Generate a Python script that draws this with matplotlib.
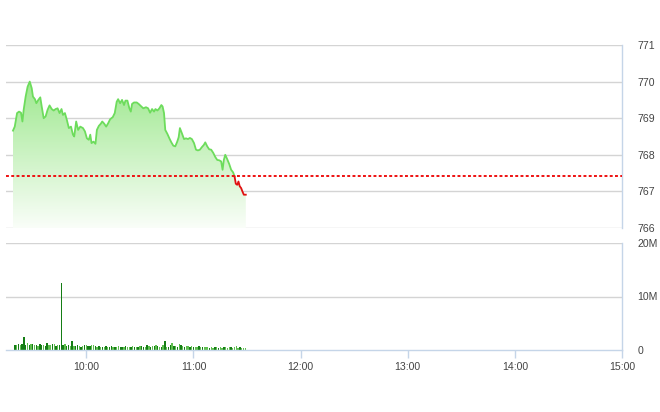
import matplotlib
matplotlib.use('Agg')
import matplotlib.pyplot as plt
import numpy as np
from matplotlib.colors import LinearSegmentedColormap

# ---- data (minutes after 09:00) ----
price_minutes = [18.9, 19.9, 21.2, 22.3, 23.4, 24.2, 24.9, 26.0, 27.1, 28.3, 29.4, 30.1, 31.2, 32.0,
                 33.1, 34.2, 35.0, 36.1, 37.2, 38.3, 39.4, 40.6, 41.7, 42.8, 43.9, 45.0, 46.1, 46.9,
                 48.0, 49.1, 50.2, 51.4, 52.5, 53.2, 54.3, 55.4, 56.6, 58.1, 59.2, 60.3, 61.4, 62.2,
                 62.9, 64.0, 65.1, 65.9, 67.0, 68.1, 68.9, 70.0, 71.1, 72.2, 73.3, 74.8, 75.9, 77.0,
                 77.8, 78.9, 80.0, 81.1, 81.9, 83.0, 84.1, 84.9, 85.6, 86.7, 88.2, 89.3, 90.8, 91.9,
                 93.4, 94.6, 95.7, 96.8, 97.9, 98.7, 99.8, 100.9, 102.0, 102.7, 103.5, 104.2, 105.4,
                 106.5, 107.6, 108.7, 109.8, 110.9, 111.7, 112.4, 113.5, 114.7, 115.8, 116.9, 118.0,
                 119.1, 120.3, 121.4, 122.5, 123.6, 124.7, 125.8, 126.6, 127.7, 128.8, 129.9, 131.1,
                 132.2, 133.3, 134.4, 135.5, 136.3, 137.0, 137.8, 138.9, 140.0, 141.1, 142.2, 143.0,
                 143.7, 144.5, 145.2, 145.9, 146.7, 147.4, 148.2, 149.3]
price_values = [768.66, 768.77, 769.14, 769.18, 769.15, 768.91, 769.23, 769.59, 769.86, 770.00,
                769.82, 769.59, 769.52, 769.41, 769.50, 769.57, 769.32, 769.00, 769.05, 769.23,
                769.35, 769.25, 769.21, 769.25, 769.27, 769.14, 769.25, 769.09, 769.14, 768.95,
                768.73, 768.77, 768.55, 768.50, 768.91, 768.68, 768.77, 768.73, 768.64, 768.45,
                768.41, 768.55, 768.32, 768.36, 768.30, 768.68, 768.79, 768.85, 768.91, 768.85,
                768.77, 768.86, 768.97, 769.03, 769.14, 769.45, 769.52, 769.41, 769.50, 769.36,
                769.48, 769.48, 769.27, 769.18, 769.39, 769.43, 769.43, 769.39, 769.32, 769.27,
                769.30, 769.27, 769.15, 769.25, 769.18, 769.25, 769.21, 769.27, 769.36, 769.32,
                769.14, 768.68, 768.57, 768.45, 768.34, 768.25, 768.23, 768.36, 768.48, 768.73,
                768.59, 768.43, 768.45, 768.43, 768.46, 768.43, 768.32, 768.14, 768.12, 768.14,
                768.21, 768.27, 768.34, 768.23, 768.15, 768.14, 768.05, 767.94, 767.86, 767.85,
                767.82, 767.59, 767.86, 768.00, 767.88, 767.75, 767.59, 767.52, 767.41, 767.21,
                767.18, 767.27, 767.14, 767.09, 767.00, 766.91, 766.91]
reference_price = 767.41

volume_minutes = list(range(20, 150))
volume_millions = [0.9, 1.0, 1.1, 0.9, 1.2, 2.4, 1.0, 1.3, 0.9, 1.1,
                   1.2, 0.9, 1.0, 0.8, 1.1, 0.9, 1.0, 0.8, 1.3, 1.0,
                   0.9, 1.2, 1.1, 0.8, 0.9, 1.0, 12.6, 0.9, 1.1, 0.7,
                   0.9, 0.8, 1.7, 0.7, 0.8, 0.9, 0.7, 0.6, 0.8, 1.0,
                   0.9, 0.7, 0.8, 1.0, 0.9, 0.8, 0.6, 0.7, 0.6, 0.5,
                   0.6, 0.7, 0.5, 0.6, 0.7, 0.6, 0.5, 0.6, 0.7, 0.6,
                   0.5, 0.6, 0.7, 0.5, 0.6, 0.5, 0.7, 0.6, 0.5, 0.6,
                   0.7, 0.8, 0.6, 0.5, 0.9, 0.7, 0.6, 0.8, 0.7, 1.0,
                   0.8, 0.5, 0.6, 0.9, 1.7, 0.6, 0.5, 0.9, 1.4, 0.8,
                   0.7, 0.6, 1.2, 0.9, 0.7, 0.6, 0.8, 0.7, 0.6, 0.7,
                   0.6, 0.5, 0.6, 0.7, 0.5, 0.6, 0.5, 0.6, 0.5, 0.4,
                   0.5, 0.4, 0.5, 0.6, 0.4, 0.5, 0.4, 0.5, 0.6, 0.4,
                   0.5, 0.6, 0.4, 0.5, 0.7, 0.4, 0.5, 0.4, 0.3, 0.3]
volume_dirs = ("dldldddldl" "dldlddlddl" "ldldldddld" "dldlddldld" "lddlldldld"
               "ldlddldlld" "dldlldldld" "lddldldldl" "dldldlddld" "ldldldlldl"
               "dlldldllld" "lldldlldll" "ldlllldlll")

x_tick_minutes = [60, 120, 180, 240, 300, 360]
x_tick_labels = ["10:00", "11:00", "12:00", "13:00", "14:00", "15:00"]
price_ticks = [766, 767, 768, 769, 770, 771]
volume_ticks = [0, 10, 20]
volume_tick_labels = ["0", "10M", "20M"]

# ---- style ----
plt.rcParams['font.family'] = ['Liberation Sans Narrow', 'Liberation Sans', 'DejaVu Sans']
LABEL_COLOR = '#444444'
GRID = '#d4d4d4'
SPINE = '#c5d5e8'
LINE_GREEN = '#6ddc5c'
LINE_RED = '#e01010'
FS = 7.6

W, H = 660, 412
fig = plt.figure(figsize=(W / 100, H / 100), dpi=100)
fig.patch.set_facecolor('white')


def rect(l, t, r, b):
    return [l / W, 1 - b / H, (r - l) / W, (b - t) / H]


XMIN, XMAX = 15, 360
ax1 = fig.add_axes(rect(6, 45, 622, 228))
ax2 = fig.add_axes(rect(6, 243, 622, 350))

# ---- price panel ----
t = np.array(price_minutes)
v = np.array(price_values)
ax1.set_xlim(XMIN, XMAX)
ax1.set_ylim(price_ticks[0], price_ticks[-1])

for y in price_ticks:
    ax1.axhline(y, color=GRID, lw=1.0, zorder=0)

fill = ax1.fill_between(t, v, price_ticks[0], color='none', lw=0)
cmap = LinearSegmentedColormap.from_list('g', [(0.98, 0.995, 0.975), (0.62, 0.91, 0.56)])
grad = np.linspace(0, 1, 256).reshape(-1, 1)
img = ax1.imshow(grad, extent=[t[0], t[-1], price_ticks[0], v.max()], origin='lower',
                 aspect='auto', cmap=cmap, zorder=1, interpolation='bilinear')
img.set_clip_path(fill.get_paths()[0], transform=ax1.transData)
ax1.set_xlim(XMIN, XMAX)
ax1.set_ylim(price_ticks[0], price_ticks[-1])

cross = int(np.where(v <= reference_price)[0][0])
ax1.plot(t[:cross + 1], v[:cross + 1], color=LINE_GREEN, lw=1.3, zorder=3, solid_joinstyle='round')
ax1.plot(t[cross:], v[cross:], color=LINE_RED, lw=1.3, zorder=3, solid_joinstyle='round')
ax1.axhline(reference_price, color='#ee1111', lw=1.4, ls=(0, (1.5, 1.2)), zorder=4)

for s in ['top', 'left', 'bottom']:
    ax1.spines[s].set_visible(False)
ax1.spines['right'].set_color(SPINE)
ax1.spines['right'].set_linewidth(1.0)
ax1.set_xticks([])
ax1.yaxis.tick_right()
ax1.set_yticks(price_ticks)
ax1.set_yticklabels([str(p) for p in price_ticks])
ax1.tick_params(axis='y', length=0, pad=11, labelsize=FS, labelcolor=LABEL_COLOR)

# ---- volume panel ----
ax2.set_xlim(XMIN, XMAX)
ax2.set_ylim(volume_ticks[0], volume_ticks[-1])
for y in volume_ticks[1:]:
    ax2.axhline(y, color=GRID, lw=1.0, zorder=0)
colors = ['#157d15' if c == 'd' else '#5fbf4f' for c in volume_dirs]
ax2.bar(volume_minutes, volume_millions, width=0.75, color=colors, zorder=2, lw=0)

for s in ['top', 'left']:
    ax2.spines[s].set_visible(False)
for s in ['right', 'bottom']:
    ax2.spines[s].set_color(SPINE)
    ax2.spines[s].set_linewidth(1.0)
ax2.yaxis.tick_right()
ax2.set_yticks(volume_ticks)
ax2.set_yticklabels(volume_tick_labels)
ax2.tick_params(axis='y', length=0, pad=11, labelsize=FS, labelcolor=LABEL_COLOR)
ax2.set_xticks(x_tick_minutes)
ax2.set_xticklabels(x_tick_labels)
ax2.tick_params(axis='x', length=6, width=1.0, color=SPINE, pad=3, labelsize=FS,
                labelcolor=LABEL_COLOR)

fig.savefig('out.png', dpi=100, facecolor='white')
